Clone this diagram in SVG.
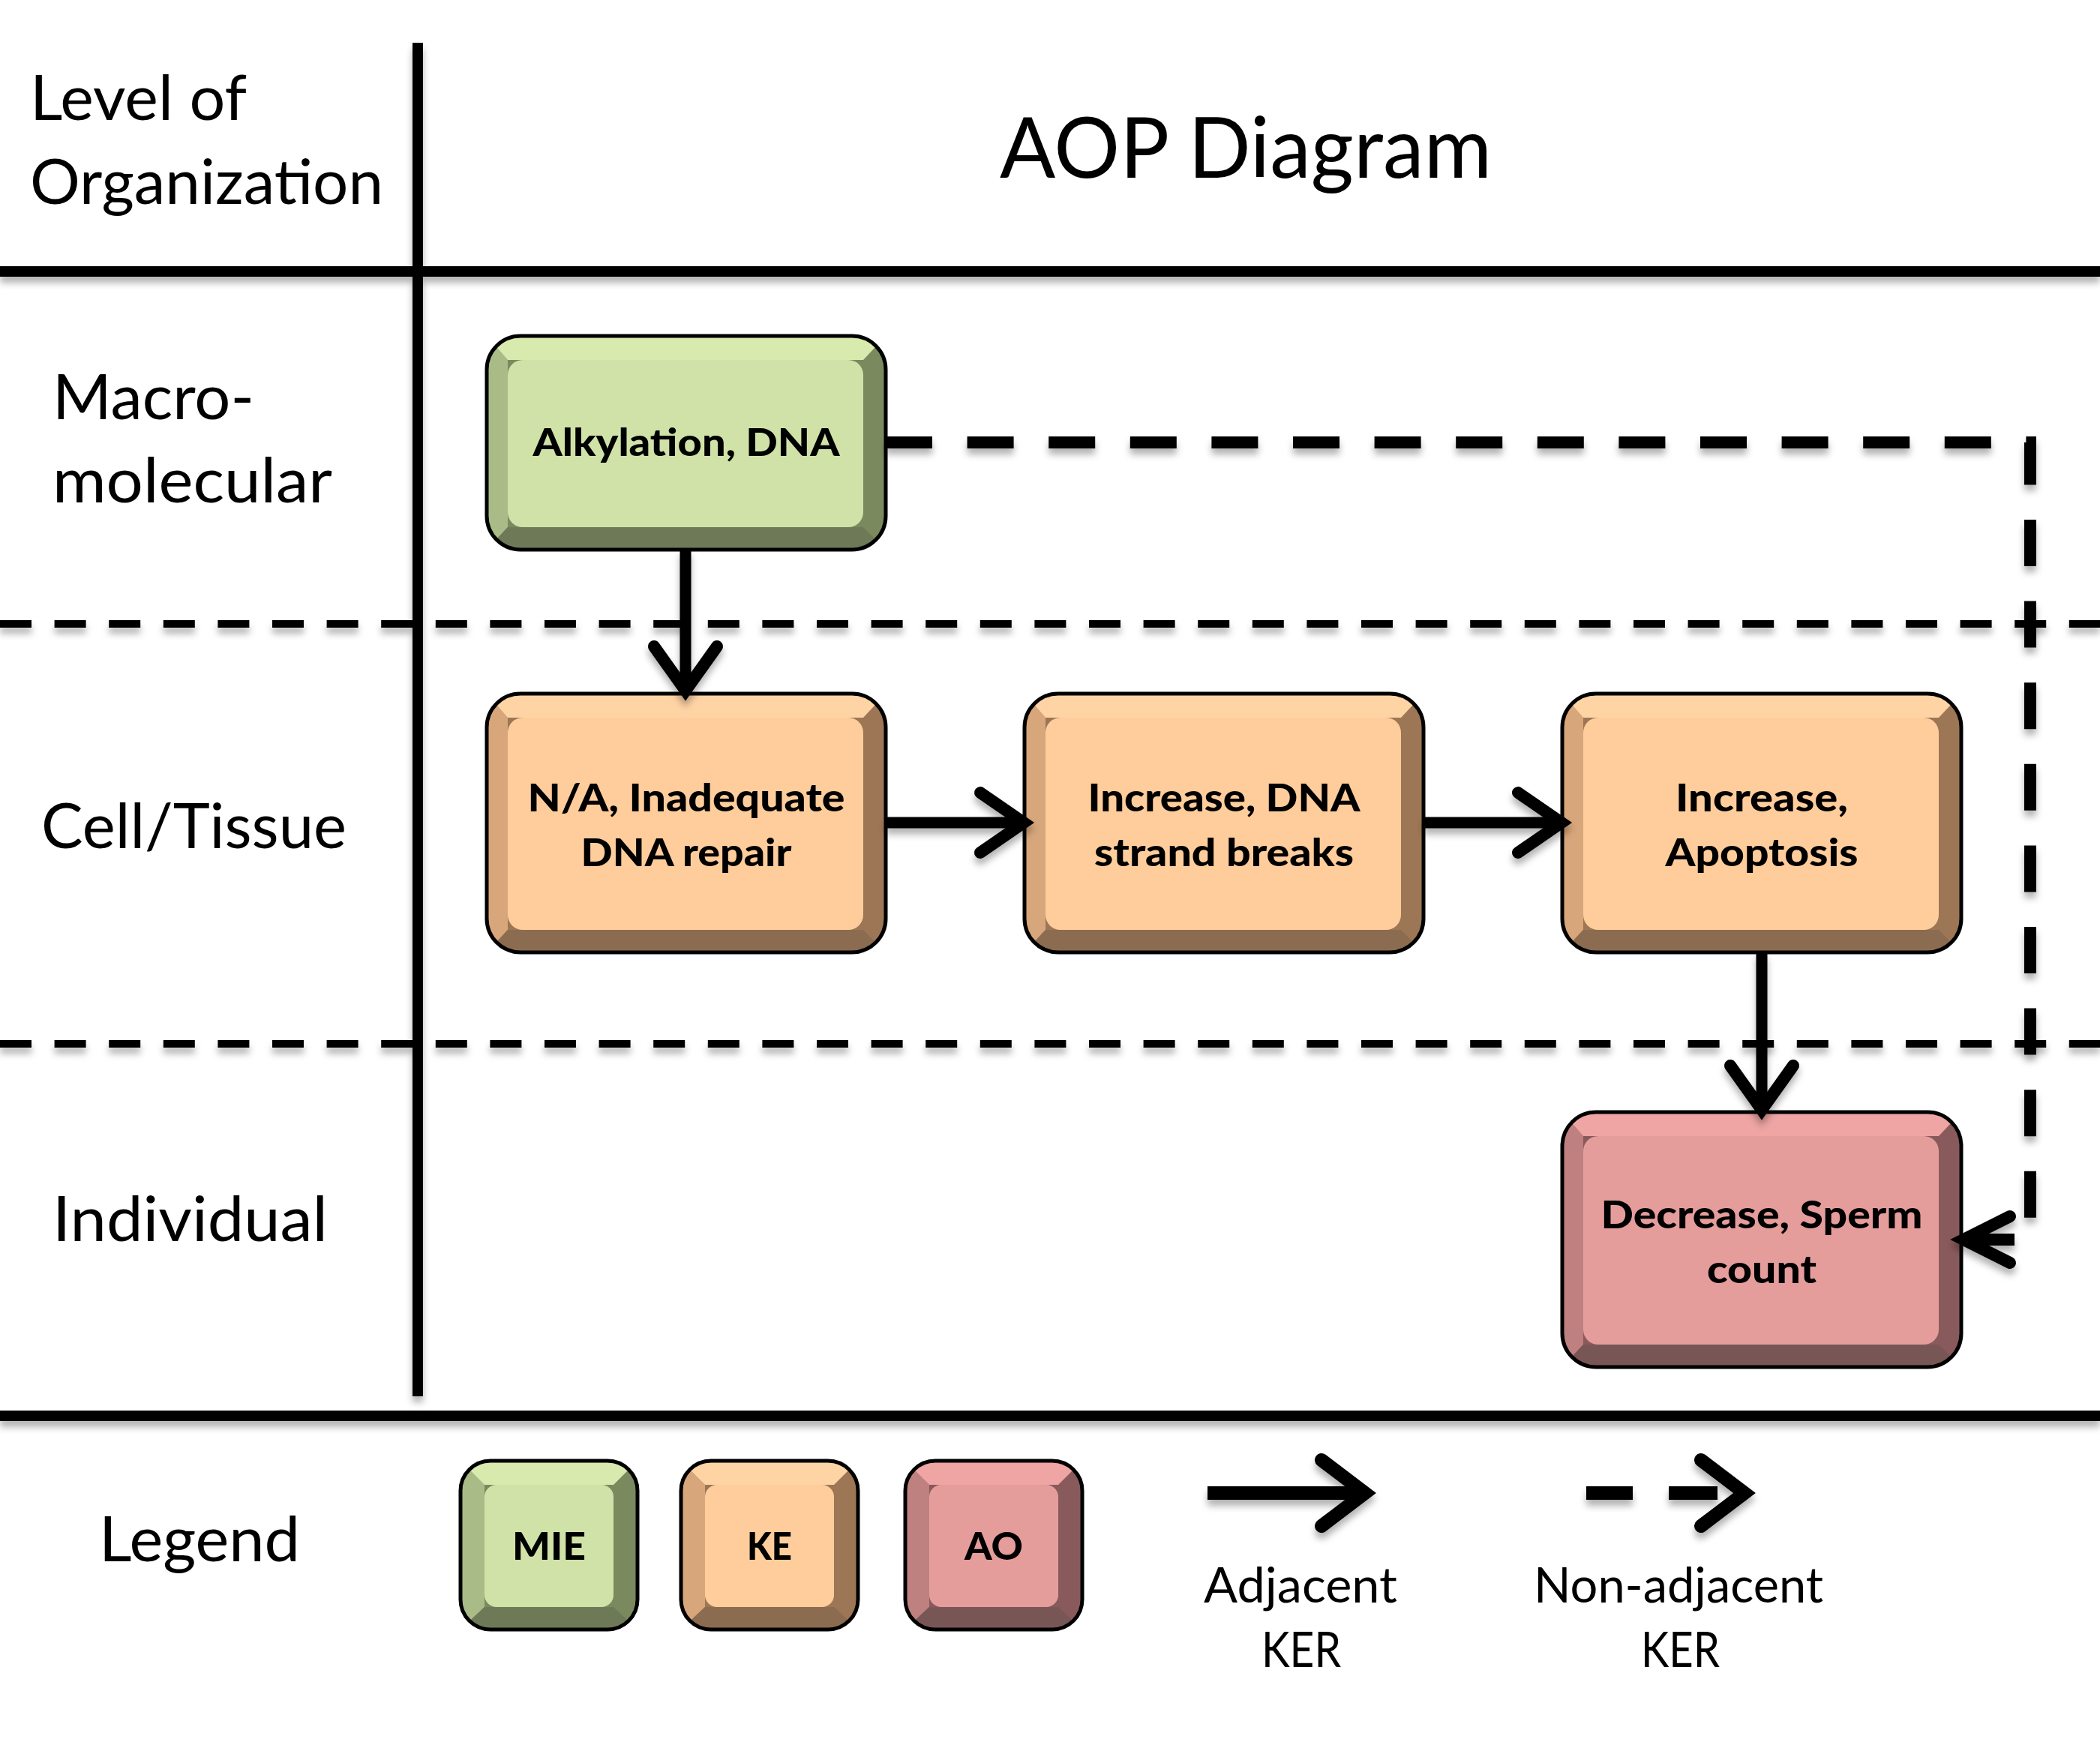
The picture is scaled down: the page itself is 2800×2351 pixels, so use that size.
<svg xmlns="http://www.w3.org/2000/svg" width="2800" height="2351" viewBox="0 0 2800 2351">
<style>
.lbl{font-family:Lato,"Open Sans","Liberation Sans",sans-serif;font-size:84px;fill:#000}
.ttl{font-family:Lato,"Open Sans","Liberation Sans",sans-serif;font-size:112px;fill:#000}
.leg{font-family:Lato,"Open Sans","Liberation Sans",sans-serif;font-size:65px;fill:#000}
.nt{font-family:Lato,"Open Sans","Liberation Sans",sans-serif;font-size:52px;font-weight:900;fill:#000;text-anchor:middle}
.edge{fill:none;stroke:#000;stroke-width:5}
.gF{fill:#D0E2A7}.gT{fill:#D8EAAE}.gL{fill:#A9BB87}.gR{fill:#7B8A5E}.gB{fill:#6E7A57}
.oF{fill:#FECD9B}.oT{fill:#FFD4A5}.oL{fill:#D7A67B}.oR{fill:#9C7655}.oB{fill:#8B6C50}
.pF{fill:#E59D9C}.pT{fill:#EEA5A4}.pL{fill:#BE8180}.pR{fill:#895A5B}.pB{fill:#795656}
.solid{fill:none;stroke:#000;stroke-width:14}
.lvl{fill:none;stroke:#000;stroke-width:10;stroke-dasharray:42 30.6}
.shaft{fill:none;stroke:#000;stroke-width:15}
.head{fill:none;stroke:#000;stroke-width:16;stroke-linecap:round;stroke-linejoin:miter;stroke-miterlimit:10}
.nadj{fill:none;stroke:#000;stroke-width:16;stroke-dasharray:62 46.6}
</style>
<defs>
<filter id="sh" x="-5%" y="-20%" width="110%" height="160%">
<feDropShadow dx="0" dy="8" stdDeviation="5" flood-color="#000" flood-opacity="0.3"/>
</filter>
<clipPath id="c285"><rect width="532" height="285" rx="45"/></clipPath>
<clipPath id="c345"><rect width="532" height="345" rx="45"/></clipPath>
<clipPath id="c340"><rect width="532" height="340" rx="45"/></clipPath>
<clipPath id="c225"><rect width="236" height="225" rx="40"/></clipPath>
</defs>
<rect width="2800" height="2351" fill="#fff"/>

<g id="grid" filter="url(#sh)">
<line class="solid" x1="557" y1="57" x2="557" y2="1862"/>
<line class="solid" x1="0" y1="362" x2="2800" y2="362"/>
<line class="solid" x1="0" y1="1888" x2="2800" y2="1888"/>
<line class="lvl" x1="0" y1="832" x2="2800" y2="832"/>
<line class="lvl" x1="0" y1="1392" x2="2800" y2="1392"/>
</g>

<g id="labels">
<text class="lbl" x="40" y="160" textLength="289" lengthAdjust="spacingAndGlyphs">Level of</text>
<text class="lbl" x="40" y="272" textLength="471" lengthAdjust="spacingAndGlyphs">Organization</text>
<text class="ttl" x="1333" y="237" textLength="656" lengthAdjust="spacingAndGlyphs">AOP Diagram</text>
<text class="lbl" x="70" y="559" textLength="269" lengthAdjust="spacingAndGlyphs">Macro-</text>
<text class="lbl" x="70" y="670" textLength="373" lengthAdjust="spacingAndGlyphs">molecular</text>
<text class="lbl" x="55" y="1131" textLength="407" lengthAdjust="spacingAndGlyphs">Cell/Tissue</text>
<text class="lbl" x="70" y="1655" textLength="367" lengthAdjust="spacingAndGlyphs">Individual</text>
<text class="lbl" x="132" y="2082" textLength="268" lengthAdjust="spacingAndGlyphs">Legend</text>
</g>

<g id="node-alkylation" transform="translate(649,448)">
<g clip-path="url(#c285)">
<rect width="532" height="285" class="gR"/>
<polygon points="0,0 28,32 28,255 0,285" class="gL"/>
<polygon points="0,0 532,0 502,32 28,32" class="gT"/>
<polygon points="0,285 28,255 502,255 532,285" class="gB"/>
</g>
<rect x="28" y="32" width="474" height="223" rx="20" class="gF"/>
<rect width="532" height="285" rx="45" class="edge"/>
<text class="nt" x="266" y="160" textLength="409" lengthAdjust="spacingAndGlyphs">Alkylation, DNA</text>
</g>

<g id="node-dna-repair" transform="translate(649,925)">
<g clip-path="url(#c345)">
<rect width="532" height="345" class="oR"/>
<polygon points="0,0 28,32 28,315 0,345" class="oL"/>
<polygon points="0,0 532,0 502,32 28,32" class="oT"/>
<polygon points="0,345 28,315 502,315 532,345" class="oB"/>
</g>
<rect x="28" y="32" width="474" height="283" rx="20" class="oF"/>
<rect width="532" height="345" rx="45" class="edge"/>
<text class="nt" x="266" y="157" textLength="423" lengthAdjust="spacingAndGlyphs">N/A, Inadequate</text>
<text class="nt" x="266" y="230" textLength="281" lengthAdjust="spacingAndGlyphs">DNA repair</text>
</g>

<g id="node-strand-breaks" transform="translate(1366,925)">
<g clip-path="url(#c345)">
<rect width="532" height="345" class="oR"/>
<polygon points="0,0 28,32 28,315 0,345" class="oL"/>
<polygon points="0,0 532,0 502,32 28,32" class="oT"/>
<polygon points="0,345 28,315 502,315 532,345" class="oB"/>
</g>
<rect x="28" y="32" width="474" height="283" rx="20" class="oF"/>
<rect width="532" height="345" rx="45" class="edge"/>
<text class="nt" x="266" y="157" textLength="363" lengthAdjust="spacingAndGlyphs">Increase, DNA</text>
<text class="nt" x="266" y="230" textLength="346" lengthAdjust="spacingAndGlyphs">strand breaks</text>
</g>

<g id="node-apoptosis" transform="translate(2083,925)">
<g clip-path="url(#c345)">
<rect width="532" height="345" class="oR"/>
<polygon points="0,0 28,32 28,315 0,345" class="oL"/>
<polygon points="0,0 532,0 502,32 28,32" class="oT"/>
<polygon points="0,345 28,315 502,315 532,345" class="oB"/>
</g>
<rect x="28" y="32" width="474" height="283" rx="20" class="oF"/>
<rect width="532" height="345" rx="45" class="edge"/>
<text class="nt" x="266" y="157" textLength="230" lengthAdjust="spacingAndGlyphs">Increase,</text>
<text class="nt" x="266" y="230" textLength="257" lengthAdjust="spacingAndGlyphs">Apoptosis</text>
</g>

<g id="node-sperm" transform="translate(2083,1483)">
<g clip-path="url(#c340)">
<rect width="532" height="340" class="pR"/>
<polygon points="0,0 28,32 28,310 0,340" class="pL"/>
<polygon points="0,0 532,0 502,32 28,32" class="pT"/>
<polygon points="0,340 28,310 502,310 532,340" class="pB"/>
</g>
<rect x="28" y="32" width="474" height="278" rx="20" class="pF"/>
<rect width="532" height="340" rx="45" class="edge"/>
<text class="nt" x="266" y="155" textLength="429" lengthAdjust="spacingAndGlyphs">Decrease, Sperm</text>
<text class="nt" x="266" y="228" textLength="146" lengthAdjust="spacingAndGlyphs">count</text>
</g>

<g id="connectors" filter="url(#sh)">
<line class="shaft" x1="914" y1="733" x2="914" y2="918"/>
<polyline class="head" points="872,862 914,921 956,862"/>
<line class="shaft" x1="1181" y1="1097" x2="1360" y2="1097"/>
<polyline class="head" points="1307,1057 1365,1097 1307,1137"/>
<line class="shaft" x1="1898" y1="1097" x2="2077" y2="1097"/>
<polyline class="head" points="2024,1057 2082,1097 2024,1137"/>
<line class="shaft" x1="2349" y1="1270" x2="2349" y2="1476"/>
<polyline class="head" points="2307,1421 2349,1480 2391,1421"/>
<polyline class="nadj" points="1181,590 2707,590 2707,1632"/>
<line class="shaft" x1="2622" y1="1653" x2="2686" y2="1653" style="stroke-width:16"/>
<polyline class="head" points="2680,1622 2618,1653 2680,1684"/>
</g>

<g id="legend-mie" transform="translate(614,1948)">
<g clip-path="url(#c225)">
<rect width="236" height="225" class="gR"/>
<polygon points="0,0 32,32 32,195 0,225" class="gL"/>
<polygon points="0,0 236,0 204,32 32,32" class="gT"/>
<polygon points="0,225 32,195 204,195 236,225" class="gB"/>
</g>
<rect x="32" y="32" width="172" height="163" rx="16" class="gF"/>
<rect width="236" height="225" rx="40" class="edge"/>
<text class="nt" x="118" y="132" textLength="98" lengthAdjust="spacingAndGlyphs">MIE</text>
</g>

<g id="legend-ke" transform="translate(908,1948)">
<g clip-path="url(#c225)">
<rect width="236" height="225" class="oR"/>
<polygon points="0,0 32,32 32,195 0,225" class="oL"/>
<polygon points="0,0 236,0 204,32 32,32" class="oT"/>
<polygon points="0,225 32,195 204,195 236,225" class="oB"/>
</g>
<rect x="32" y="32" width="172" height="163" rx="16" class="oF"/>
<rect width="236" height="225" rx="40" class="edge"/>
<text class="nt" x="118" y="132" textLength="60" lengthAdjust="spacingAndGlyphs">KE</text>
</g>

<g id="legend-ao" transform="translate(1207,1948)">
<g clip-path="url(#c225)">
<rect width="236" height="225" class="pR"/>
<polygon points="0,0 32,32 32,195 0,225" class="pL"/>
<polygon points="0,0 236,0 204,32 32,32" class="pT"/>
<polygon points="0,225 32,195 204,195 236,225" class="pB"/>
</g>
<rect x="32" y="32" width="172" height="163" rx="16" class="pF"/>
<rect width="236" height="225" rx="40" class="edge"/>
<text class="nt" x="118" y="132" textLength="78" lengthAdjust="spacingAndGlyphs">AO</text>
</g>

<g id="legend-arrows" filter="url(#sh)">
<line class="shaft" x1="1610" y1="1991" x2="1814" y2="1991" style="stroke-width:18"/>
<polyline class="head" points="1762,1947 1820,1991 1762,2035" style="stroke-width:18"/>
<line class="shaft" x1="2115" y1="1991" x2="2177" y2="1991" style="stroke-width:18"/>
<line class="shaft" x1="2225" y1="1991" x2="2290" y2="1991" style="stroke-width:18"/>
<polyline class="head" points="2268,1947 2326,1991 2268,2035" style="stroke-width:18"/>
</g>

<g id="legend-text">
<text class="leg" x="1605" y="2137" textLength="258" lengthAdjust="spacingAndGlyphs">Adjacent</text>
<text class="leg" x="1682" y="2223" textLength="106" lengthAdjust="spacingAndGlyphs">KER</text>
<text class="leg" x="2045" y="2137" textLength="386" lengthAdjust="spacingAndGlyphs">Non-adjacent</text>
<text class="leg" x="2188" y="2223" textLength="105" lengthAdjust="spacingAndGlyphs">KER</text>
</g>
</svg>
